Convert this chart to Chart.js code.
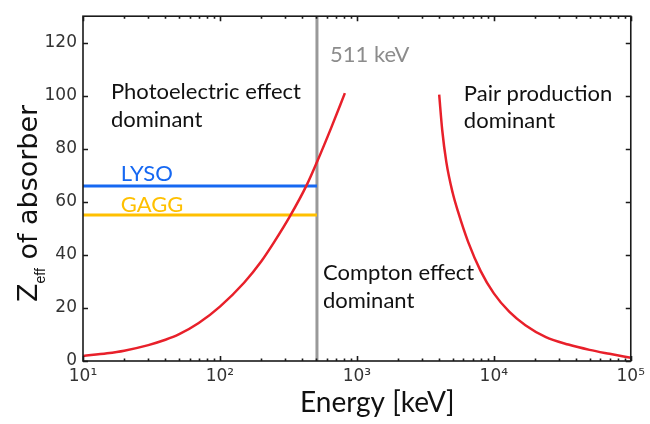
<!DOCTYPE html>
<html>
<head>
<meta charset="utf-8">
<script src="https://cdn.jsdelivr.net/npm/chart.js@4.4.0/dist/chart.umd.min.js"></script>
<style>
  html, body { margin: 0; padding: 0; background: #fff; }
  #wrap { width: 650px; height: 424px; position: relative; }
</style>
</head>
<body>
<div id="wrap"><canvas id="zeffChart"></canvas></div>
<script>
// photoelectric / Compton boundary (energy in keV, Zeff)
const photoEnergy = [10, 15, 20, 30, 40, 50, 70, 100, 150, 200, 250, 324, 429, 511, 650, 817];
const photoZeff = [1.9, 2.9, 3.9, 6.0, 8.0, 10.0, 14.3, 20.5, 29.5, 37.5, 45, 54.5, 66.2, 75, 88, 101];

// Compton / pair production boundary
const pairEnergy = [3990, 4200, 4500, 5000, 5500, 6500, 8000, 10000, 13000, 17000, 24000, 35000, 50000, 70000, 100000];
const pairZeff = [100.4, 87, 75, 63.5, 56, 44.8, 34, 25.5, 18.5, 13.5, 9.0, 6.2, 4.2, 2.7, 1.2];

// scintillator Zeff, drawn up to the annihilation line
const crystalNames = ["LYSO", "GAGG"];
const crystalZeff = [66, 55];
const crystalColors = ["#1668f2", "#ffc000"];
const crystalRange = [10, 511];
const annihilationEnergy = 511;

const energyTicks = [10, 100, 1000, 10000, 100000];
const energyTickLabels = ["10¹", "10²", "10³", "10⁴", "10⁵"];
const zeffTicks = [0, 20, 40, 60, 80, 100, 120];

const toPoints = (xs, ys) => xs.map((x, i) => ({ x: x, y: ys[i] }));

// text placed in data units: left edge energy, first baseline Zeff
const notes = [
  { lines: ["Photoelectric effect", "dominant"], energy: 16, zeff: 98.7, color: "#111111" },
  { lines: ["Pair production", "dominant"], energy: 6040, zeff: 98.1, color: "#111111" },
  { lines: ["Compton effect", "dominant"], energy: 565, zeff: 30.4, color: "#111111" },
  { lines: ["511 keV"], energy: 636, zeff: 112.6, color: "#8c8c8c" },
  { lines: [crystalNames[0]], energy: 18.9, zeff: 67.8, color: crystalColors[0] },
  { lines: [crystalNames[1]], energy: 18.9, zeff: 56.3, color: crystalColors[1] },
];

const datasets = [
  {
    data: [{ x: annihilationEnergy, y: 0 }, { x: annihilationEnergy, y: 130 }],
    borderColor: "#999999",
    borderWidth: 3,
    order: 3,
  },
  {
    data: toPoints(crystalRange, [crystalZeff[0], crystalZeff[0]]),
    borderColor: crystalColors[0],
    borderWidth: 3,
    order: 2,
  },
  {
    data: toPoints(crystalRange, [crystalZeff[1], crystalZeff[1]]),
    borderColor: crystalColors[1],
    borderWidth: 3,
    order: 2,
  },
  {
    data: toPoints(photoEnergy, photoZeff),
    borderColor: "#e8202a",
    borderWidth: 2.5,
    cubicInterpolationMode: "monotone",
    order: 1,
  },
  {
    data: toPoints(pairEnergy, pairZeff),
    borderColor: "#e8202a",
    borderWidth: 2.5,
    cubicInterpolationMode: "monotone",
    order: 1,
  },
];

// box around the plot with inward tick marks on all four sides
const framePlugin = {
  id: "frame",
  afterDatasetsDraw(chart) {
    const { ctx, chartArea: a, scales } = chart;
    const x = scales.x, y = scales.y;
    ctx.save();
    ctx.strokeStyle = "#1a1a1a";
    ctx.lineWidth = 1.6;
    ctx.strokeRect(a.left, a.top, a.right - a.left, a.bottom - a.top);
    ctx.beginPath();
    for (let d = 10; d <= 100000; d *= 10) {
      for (let k = 1; k < 10; k++) {
        const v = d * k;
        if (v > 100000) break;
        const px = Math.round(x.getPixelForValue(v)) + 0.5;
        const len = k === 1 ? 5 : 2.5;
        ctx.moveTo(px, a.bottom);
        ctx.lineTo(px, a.bottom - len);
        ctx.moveTo(px, a.top);
        ctx.lineTo(px, a.top + len);
      }
    }
    zeffTicks.forEach((v) => {
      const py = Math.round(y.getPixelForValue(v)) + 0.5;
      ctx.moveTo(a.left, py);
      ctx.lineTo(a.left + 5, py);
      ctx.moveTo(a.right, py);
      ctx.lineTo(a.right - 5, py);
    });
    ctx.stroke();
    ctx.restore();
  },
};

const textPlugin = {
  id: "texts",
  afterDraw(chart) {
    const { ctx, scales } = chart;
    const x = scales.x, y = scales.y;
    ctx.save();
    ctx.textBaseline = "alphabetic";
    ctx.textAlign = "left";
    ctx.font = "22px Lato";
    notes.forEach((n) => {
      ctx.fillStyle = n.color;
      const px = x.getPixelForValue(n.energy);
      const py = y.getPixelForValue(n.zeff);
      n.lines.forEach((line, i) => ctx.fillText(line, px, py + i * 27.5));
    });

    // x axis title
    ctx.fillStyle = "#111111";
    ctx.font = "28px Lato";
    ctx.fillText("Energy [keV]", 300, 412);

    // y axis title with subscript
    ctx.translate(37, 302);
    ctx.rotate(-Math.PI / 2);
    ctx.fillStyle = "#111111";
    ctx.font = "27px 'DejaVu Sans'";
    ctx.fillText("Z", 0, 0);
    let off = ctx.measureText("Z").width;
    ctx.font = "14px 'Liberation Sans'";
    ctx.fillText("eff", off, 8);
    off += ctx.measureText("eff").width;
    ctx.font = "27px 'DejaVu Sans'";
    ctx.fillText(" of absorber", off, 0);
    ctx.restore();
  },
};

new Chart(document.getElementById("zeffChart"), {
  type: "line",
  data: { datasets: datasets },
  options: {
    responsive: true,
    maintainAspectRatio: false,
    animation: false,
    events: [],
    layout: { padding: { top: 11, right: 19, left: 0, bottom: 0 } },
    elements: { point: { radius: 0 } },
    plugins: { legend: { display: false }, tooltip: { enabled: false } },
    scales: {
      x: {
        type: "logarithmic",
        min: 10,
        max: 100000,
        afterBuildTicks: (scale) => {
          scale.ticks = energyTicks.map((v) => ({ value: v }));
        },
        afterFit: (scale) => {
          scale.height = 63;
        },
        grid: { display: false, drawTicks: false },
        border: { display: false },
        ticks: {
          color: "#333333",
          font: { family: "DejaVu Sans", size: 17 },
          padding: 5,
          maxRotation: 0,
          autoSkip: false,
          callback: (value) => {
            const i = energyTicks.indexOf(value);
            return i >= 0 ? energyTickLabels[i] : "";
          },
        },
      },
      y: {
        type: "linear",
        min: 0,
        max: 130,
        afterBuildTicks: (scale) => {
          scale.ticks = zeffTicks.map((v) => ({ value: v }));
        },
        afterFit: (scale) => {
          scale.width = 83;
        },
        grid: { display: false, drawTicks: false },
        border: { display: false },
        ticks: {
          color: "#333333",
          font: { family: "DejaVu Sans", size: 17 },
          padding: 6,
        },
      },
    },
  },
  plugins: [framePlugin, textPlugin],
});
</script>
</body>
</html>
